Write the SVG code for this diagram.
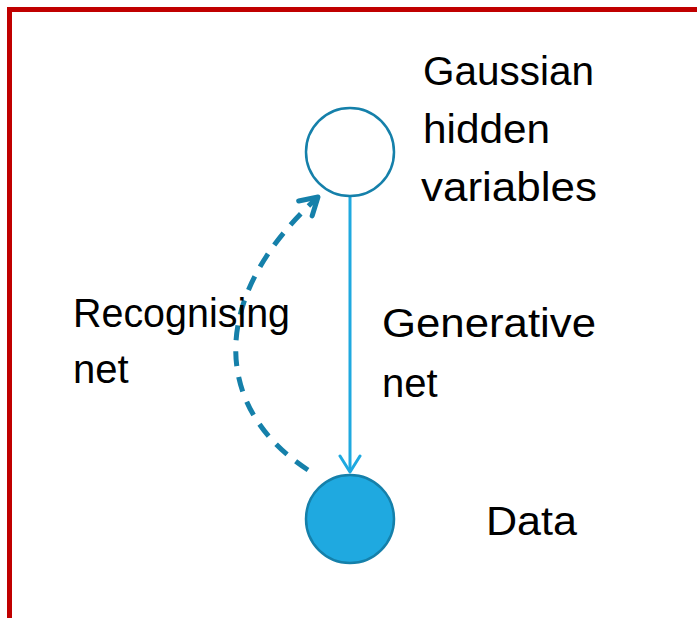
<svg xmlns="http://www.w3.org/2000/svg" width="697" height="618" viewBox="0 0 697 618">
<style>
.t{font-family:"Liberation Sans",Arial,sans-serif;font-size:40px;fill:#000}
.frame{fill:none;stroke:#c00000;stroke-width:5}
</style>
<defs>
<marker id="arrS" markerUnits="userSpaceOnUse" viewBox="-20 -12 24 24" refX="0" refY="0" markerWidth="24" markerHeight="24" orient="auto">
<path d="M-16,-10 L0,0 L-16,10" fill="none" stroke="#1fa9e0" stroke-width="3" stroke-linecap="round" stroke-linejoin="round"/>
</marker>
<marker id="arrD" markerUnits="userSpaceOnUse" viewBox="-22 -14 26 28" refX="0" refY="0" markerWidth="26" markerHeight="28" orient="auto">
<path d="M-17,-10 L0,0 L-17,10" fill="none" stroke="#1580aa" stroke-width="5" stroke-linecap="round" stroke-linejoin="round"/>
</marker>
</defs>
<rect width="697" height="618" fill="#fff"/>
<path class="frame" d="M9.5,625 V9.5 H705"/>
<g id="connectors">
<line x1="350" y1="197" x2="350" y2="472" stroke="#1fa9e0" stroke-width="3" marker-end="url(#arrS)"/>
<path d="M308,470 C215,410 205,300 318,197" fill="none" stroke="#1580aa" stroke-width="5" stroke-dasharray="15,11" marker-end="url(#arrD)"/>
</g>
<g id="hidden">
<circle cx="350" cy="152" r="44" fill="#fff" stroke="#1580aa" stroke-width="2.5"/>
<text class="t" x="423" y="85" textLength="171" lengthAdjust="spacingAndGlyphs">Gaussian</text>
<text class="t" x="423" y="143" textLength="127" lengthAdjust="spacingAndGlyphs">hidden</text>
<text class="t" x="421" y="201" textLength="176" lengthAdjust="spacingAndGlyphs">variables</text>
</g>
<g id="data">
<circle cx="350" cy="519" r="44" fill="#1fa9e0" stroke="#1580aa" stroke-width="2.5"/>
<text class="t" x="486" y="535" textLength="91" lengthAdjust="spacingAndGlyphs">Data</text>
</g>
<g id="labels">
<text class="t" x="73" y="327" textLength="217" lengthAdjust="spacingAndGlyphs">Recognising</text>
<text class="t" x="73" y="383">net</text>
<text class="t" x="382" y="337" textLength="214" lengthAdjust="spacingAndGlyphs">Generative</text>
<text class="t" x="382" y="397">net</text>
</g>
</svg>
